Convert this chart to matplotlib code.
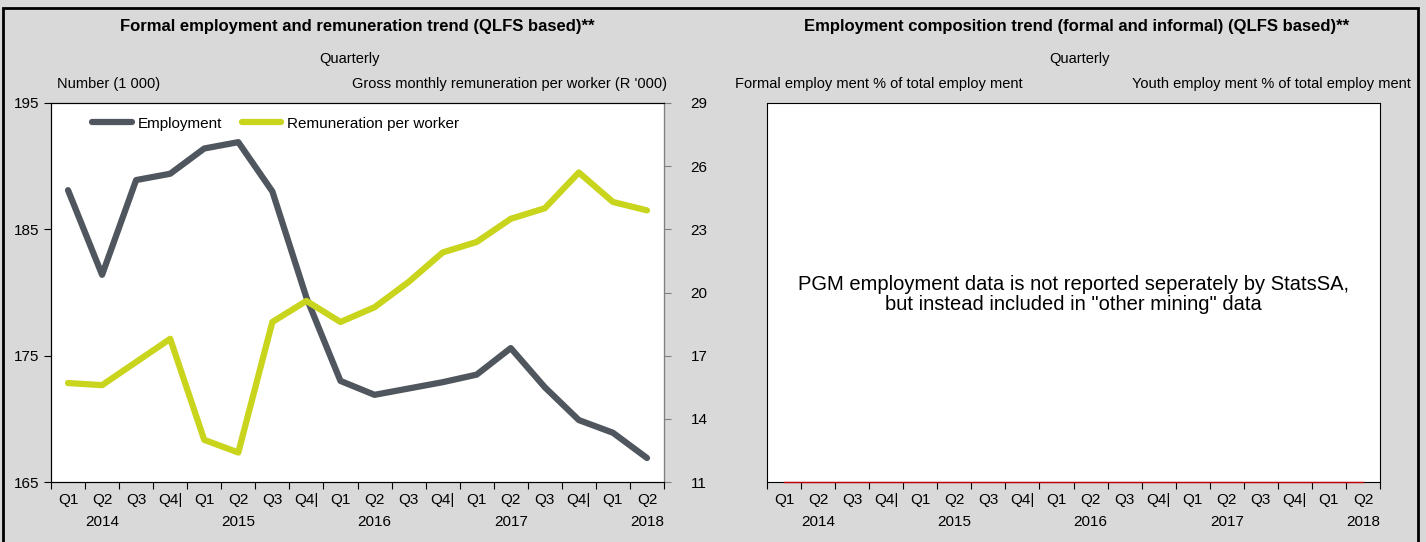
import matplotlib
matplotlib.use('Agg')
import matplotlib.pyplot as plt
import matplotlib.transforms as mtransforms
from matplotlib.patches import Rectangle

plt.rcParams['font.family'] = ['Liberation Sans', 'DejaVu Sans']

# 数据
quarters = ['Q1', 'Q2', 'Q3', 'Q4|', 'Q1', 'Q2', 'Q3', 'Q4|', 'Q1', 'Q2', 'Q3', 'Q4|',
            'Q1', 'Q2', 'Q3', 'Q4|', 'Q1', 'Q2']
years = ['2014', '2015', '2016', '2017', '2018']
year_pos = [1, 5, 9, 13, 17]

employment = [188.1, 181.4, 188.9, 189.4, 191.4, 191.9, 188.0, 179.6, 173.0,
              171.9, 172.4, 172.9, 173.5, 175.6, 172.5, 169.9, 168.9, 166.9]
remuneration = [15.7, 15.6, 16.7, 17.8, 13.0, 12.4, 18.6, 19.6, 18.6,
                19.3, 20.5, 21.9, 22.4, 23.5, 24.0, 25.7, 24.3, 23.9]
# 右图: 空序列 (Excel 把空值画成 0)
formal_share = [0, 0, 0, 0, 0, 0, 0, 0, 0, 0, 0, 0, 0, 0, 0, 0, 0, 0]

BG = '#d9d9d9'
GREY = '#4f565e'
YELLOW = '#c9d41c'
W, H = 1426, 542

fig = plt.figure(figsize=(W / 100, H / 100), dpi=100)
fig.patch.set_facecolor(BG)
fig.add_artist(Rectangle((3 / W, -0.05), 1415 / W, 1.05 - 8 / H, transform=fig.transFigure,
                         fill=False, edgecolor='black', linewidth=2))


def px_axes(x0, x1, y0, y1):
    return fig.add_axes([x0 / W, (H - y1) / H, (x1 - x0) / W, (y1 - y0) / H])


def setup_xaxis(ax):
    n = len(quarters)
    ax.set_xlim(-0.5, n - 0.5)
    ax.set_xticks([i - 0.5 for i in range(n + 1)])
    ax.set_xticklabels([])
    ax.tick_params(axis='x', which='major', direction='out', length=5, color='black')
    ax.set_xticks(range(n), minor=True)
    ax.set_xticklabels(quarters, minor=True, fontsize=11)
    ax.tick_params(axis='x', which='minor', length=0, pad=8)
    trans = mtransforms.blended_transform_factory(ax.transData, ax.transAxes)
    for p, yr in zip(year_pos, years):
        ax.text(p, -0.088, yr, transform=trans, ha='center', va='top', fontsize=11)


# --- 左图 ---
ax = px_axes(51, 664, 103, 482)
ax.set_facecolor('white')
x = range(len(employment))
l1, = ax.plot(x, employment, color=GREY, lw=4.5, solid_capstyle='round',
              solid_joinstyle='round', label='Employment')
ax.set_ylim(165, 195)
ax.set_yticks([165, 175, 185, 195])
ax.tick_params(axis='y', direction='out', length=5, labelsize=11)
setup_xaxis(ax)

ax2 = ax.twinx()
l2, = ax2.plot(x, remuneration, color=YELLOW, lw=4.5, solid_capstyle='round',
               solid_joinstyle='round', label='Remuneration per worker')
ax2.set_ylim(11, 29)
ax2.set_yticks([11, 14, 17, 20, 23, 26, 29])
ax2.tick_params(axis='y', direction='out', length=5, color='#808080', labelsize=11, pad=14)
ax2.spines['right'].set_color('#808080')
ax.set_zorder(ax2.get_zorder() - 1)
ax2.patch.set_visible(False)
ax.legend(handles=[l1, l2], loc='upper left', bbox_to_anchor=(0.045, 1.0), ncol=2,
          frameon=False, fontsize=11, handlelength=2.6, handletextpad=0.35,
          columnspacing=1.3)

fig.text(357 / W, 1 - 27 / H, 'Formal employment and remuneration trend (QLFS based)**',
         ha='center', va='center', fontsize=12, fontweight='bold')
fig.text(350 / W, 1 - 59 / H, 'Quarterly', ha='center', va='center', fontsize=10.5)
fig.text(57 / W, 1 - 84 / H, 'Number (1 000)', ha='left', va='center', fontsize=10.5)
fig.text(667 / W, 1 - 84 / H, "Gross monthly remuneration per worker (R '000)",
         ha='right', va='center', fontsize=10.5)

# --- 右图 ---
bx = px_axes(767, 1380, 103, 482)
bx.set_facecolor('white')
bx.plot(range(len(formal_share)), formal_share, color='#c00000', lw=1.0, clip_on=False,
        zorder=5)
bx.set_ylim(0, 1)
bx.set_yticks([])
setup_xaxis(bx)
bx.text(0.5, 0.495, 'PGM employment data is not reported seperately by StatsSA,\n'
        'but instead included in "other mining" data', transform=bx.transAxes,
        ha='center', va='center', fontsize=14.5, linespacing=1.05)

fig.text(1077 / W, 1 - 27 / H, 'Employment composition trend (formal and informal) (QLFS based)**',
         ha='center', va='center', fontsize=12, fontweight='bold')
fig.text(1080 / W, 1 - 59 / H, 'Quarterly', ha='center', va='center', fontsize=10.5)
fig.text(735 / W, 1 - 84 / H, 'Formal employ ment % of total employ ment',
         ha='left', va='center', fontsize=10.5)
fig.text(1411 / W, 1 - 84 / H, 'Youth employ ment % of total employ ment',
         ha='right', va='center', fontsize=10.5)

fig.savefig('out.png', dpi=100, facecolor=BG)
